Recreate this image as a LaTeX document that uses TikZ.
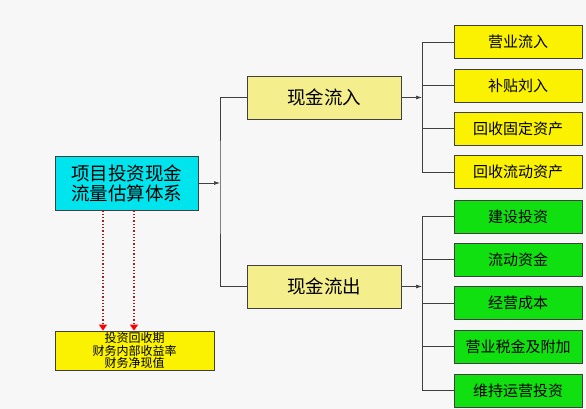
\documentclass[tikz,border=0pt]{standalone}
\usepackage{fontspec}
\setmainfont{Noto Sans CJK SC}
\usetikzlibrary{arrows.meta,positioning}

\definecolor{bgcol}{HTML}{F7F7F7}
\definecolor{maincol}{HTML}{00E4EE}
\definecolor{paleyel}{HTML}{F4EE8C}
\definecolor{brightyel}{HTML}{FAF200}
\definecolor{brightgrn}{HTML}{10E010}
\definecolor{linecol}{HTML}{404040}
\definecolor{dotcol}{HTML}{A02020}

\begin{document}
\begin{tikzpicture}[
        x=1pt, y=-1pt,
        every node/.style={draw=linecol, line width=0.8pt, inner sep=0pt, align=center},
        mainbox/.style={fill=maincol, minimum width=143pt, minimum height=54pt, font=\fontsize{18.5}{20}\selectfont},
        flowbox/.style={fill=paleyel, minimum width=154pt, minimum height=43pt, font=\fontsize{18.5}{20}\selectfont},
        inbox/.style={fill=brightyel, minimum width=128pt, minimum height=33pt, font=\fontsize{15}{16}\selectfont},
        outbox/.style={fill=brightgrn, minimum width=128pt, minimum height=33pt, font=\fontsize{15}{16}\selectfont},
        evalbox/.style={fill=brightyel, minimum width=159pt, minimum height=39pt, font=\fontsize{12}{12.6}\selectfont},
        edge/.style={draw=linecol, line width=0.7pt},
        arr/.style={edge, -{Latex[length=6pt,width=4pt]}},
        dotarr/.style={draw=dotcol, line width=1.3pt, dotted, -{Triangle[length=6pt,width=8pt,fill=red,color=red]}},
    ]

    \fill[bgcol] (0,0) rectangle (586,409);
    \useasboundingbox (0,0) rectangle (586,409);

    % === MAIN BOX ===
    \node[mainbox] (main) at (126.5,183) {项目投资现金\\流量估算体系};

    % === CASH FLOW ===
    \node[flowbox] (inflow) at (324,97.5) {现金流入};
    \node[flowbox] (outflow) at (324,286.5) {现金流出};

    \coordinate (j1) at (220,183);
    \draw[arr] (main.east) -- (j1);
    \draw[edge] (inflow.west) -| (j1) |- (outflow.west);

    % === INFLOW ITEMS ===
    \node[inbox] (in1) at (518,42) {营业流入};
    \node[inbox] (in2) at (518,85.5) {补贴刘入};
    \node[inbox] (in3) at (518,128.5) {回收固定资产};
    \node[inbox] (in4) at (518,172) {回收流动资产};

    \coordinate (j2) at (422,97.5);
    \draw[arr] (inflow.east) -- (j2);
    \foreach \i in {1,...,4}
        \draw[edge] (j2) |- (in\i.west);

    % === OUTFLOW ITEMS ===
    \node[outbox] (out1) at (518,216.5) {建设投资};
    \node[outbox] (out2) at (518,259.5) {流动资金};
    \node[outbox] (out3) at (518,303) {经营成本};
    \node[outbox] (out4) at (518,346.5) {营业税金及附加};
    \node[outbox] (out5) at (518,390.5) {维持运营投资};

    \coordinate (j3) at (422,286.5);
    \draw[arr] (outflow.east) -- (j3);
    \foreach \i in {1,...,5}
        \draw[edge] (j3) |- (out\i.west);

    % === EVALUATION ===
    \node[evalbox] (eval) at (134.5,350.5) {投资回收期\\财务内部收益率\\财务净现值};

    \draw[dotarr] (main.south -| 103,0) -- (eval.north -| 103,0);
    \draw[dotarr] (main.south -| 134,0) -- (eval.north -| 134,0);

\end{tikzpicture}
\end{document}
